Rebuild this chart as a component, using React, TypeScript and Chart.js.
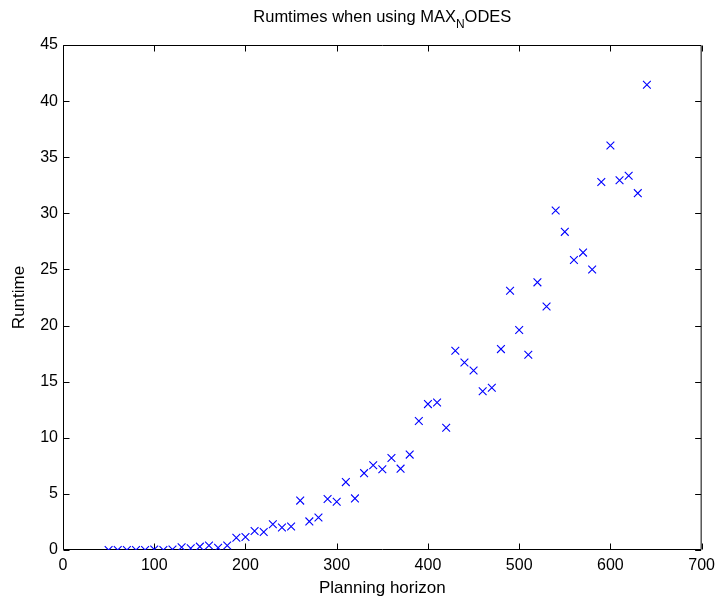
import React, { useEffect, useRef } from "react";
import { Chart, registerables } from "chart.js";

Chart.register(...registerables);

const horizons = [
  50, 60, 70, 80, 90, 100, 110, 120, 130, 140, 150, 160, 170, 180, 190, 200,
  210, 220, 230, 240, 250, 260, 270, 280, 290, 300, 310, 320, 330, 340, 350,
  360, 370, 380, 390, 400, 410, 420, 430, 440, 450, 460, 470, 480, 490, 500,
  510, 520, 530, 540, 550, 560, 570, 580, 590, 600, 610, 620, 630, 640,
];
const runtimes = [
  0, 0, 0, 0, 0, 0.05, 0, 0.05, 0.25, 0.15, 0.3, 0.4, 0.2, 0.4, 1.1, 1.15,
  1.7, 1.6, 2.3, 2.0, 2.1, 4.4, 2.55, 2.9, 4.55, 4.3, 6.05, 4.6, 6.85, 7.55, 7.2,
  8.2, 7.25, 8.5, 11.5, 13.0, 13.15, 10.9, 17.75, 16.7, 16.0, 14.15, 14.45, 17.9, 23.1, 19.6,
  17.4, 23.85, 21.7, 30.25, 28.35, 25.85, 26.5, 25.0, 32.8, 36.05, 32.95, 33.35, 31.8, 41.45,
];
const xTicks = [0, 100, 200, 300, 400, 500, 600, 700];
const yTicks = [0, 5, 10, 15, 20, 25, 30, 35, 40, 45];
const titleMain = "Rumtimes when using MAX";
const titleSub = "N";
const titleEnd = "ODES";
const xLabel = "Planning horizon";
const yLabel = "Runtime";

const FONT = "'Liberation Sans', Arial, Helvetica, sans-serif";

const framePlugin = {
  id: "frame",
  beforeDatasetsDraw(chart: any) {
    const { ctx, chartArea: a, scales } = chart;
    const L = a.left + 0.5, R = a.right - 0.5, T = a.top + 0.5, B = a.bottom - 0.5;
    const len = 6;
    ctx.save();
    ctx.strokeStyle = "#000";
    ctx.lineWidth = 1;
    ctx.beginPath();
    ctx.rect(L, T, R - L, B - T);
    for (const v of xTicks) {
      const px = Math.round(scales.x.getPixelForValue(v)) + 0.5;
      ctx.moveTo(px, B);
      ctx.lineTo(px, B - len);
      ctx.moveTo(px, T);
      ctx.lineTo(px, T + len);
    }
    for (const v of yTicks) {
      const py = Math.round(scales.y.getPixelForValue(v)) + 0.5;
      ctx.moveTo(L, py);
      ctx.lineTo(L + len, py);
      ctx.moveTo(R, py);
      ctx.lineTo(R - len, py);
    }
    ctx.stroke();
    ctx.restore();
  },
  afterDraw(chart: any) {
    const { ctx, chartArea: a } = chart;
    ctx.save();
    ctx.fillStyle = "#000";
    ctx.textBaseline = "alphabetic";
    const mainFont = `16.5px ${FONT}`;
    const subFont = `12px ${FONT}`;
    ctx.font = mainFont;
    const w1 = ctx.measureText(titleMain).width;
    const w3 = ctx.measureText(titleEnd).width;
    ctx.font = subFont;
    const w2 = ctx.measureText(titleSub).width;
    const total = w1 + w2 + w3;
    let x = (a.left + a.right) / 2 - total / 2;
    const base = 22;
    ctx.font = mainFont;
    ctx.fillText(titleMain, x, base);
    x += w1;
    ctx.font = subFont;
    ctx.fillText(titleSub, x, base + 6);
    x += w2;
    ctx.font = mainFont;
    ctx.fillText(titleEnd, x, base);
    ctx.restore();
  },
};

export default function App() {
  const ref = useRef<HTMLCanvasElement | null>(null);
  useEffect(() => {
    if (!ref.current) return;
    const chart = new Chart(ref.current, {
      type: "scatter",
      data: {
        datasets: [
          {
            data: horizons.map((x, i) => ({ x, y: runtimes[i] })),
            pointStyle: "crossRot",
            pointRadius: 5.5,
            pointHoverRadius: 5.5,
            pointBorderColor: "#0000ff",
            pointBackgroundColor: "#0000ff",
            pointBorderWidth: 1.1,
            showLine: false,
          },
        ],
      },
      options: {
        responsive: false,
        animation: false,
        devicePixelRatio: 1,
        events: [],
        layout: { padding: { top: 45, right: 18, left: 0, bottom: 0 } },
        plugins: {
          legend: { display: false },
          tooltip: { enabled: false },
          title: { display: false },
        },
        scales: {
          x: {
            type: "linear",
            min: 0,
            max: 700,
            grid: { display: false, drawTicks: false, tickLength: 0 },
            border: { display: false },
            afterFit: (s: any) => {
              s.height = 55;
            },
            afterBuildTicks: (s: any) => {
              s.ticks = xTicks.map((v) => ({ value: v }));
            },
            ticks: {
              padding: 6,
              color: "#000",
              font: { family: FONT, size: 16 },
              maxRotation: 0,
            },
            title: {
              display: true,
              text: xLabel,
              color: "#000",
              font: { family: FONT, size: 17 },
              padding: { top: 0, bottom: 6 },
            },
          },
          y: {
            type: "linear",
            min: 0,
            max: 45,
            grid: { display: false, drawTicks: false, tickLength: 0 },
            border: { display: false },
            afterFit: (s: any) => {
              s.width = 63;
            },
            afterBuildTicks: (s: any) => {
              s.ticks = yTicks.map((v) => ({ value: v }));
            },
            ticks: {
              padding: 5,
              color: "#000",
              font: { family: FONT, size: 16 },
            },
            title: {
              display: true,
              text: yLabel,
              color: "#000",
              font: { family: FONT, size: 17 },
              padding: { top: 9, bottom: 0 },
            },
          },
        },
      },
      plugins: [framePlugin],
    });
    return () => chart.destroy();
  }, []);
  return (
    <div style={{ position: "absolute", left: 0, top: 0, width: 721, height: 605, background: "#fff" }}>
      <canvas ref={ref} width={721} height={605} style={{ display: "block" }} />
    </div>
  );
}
